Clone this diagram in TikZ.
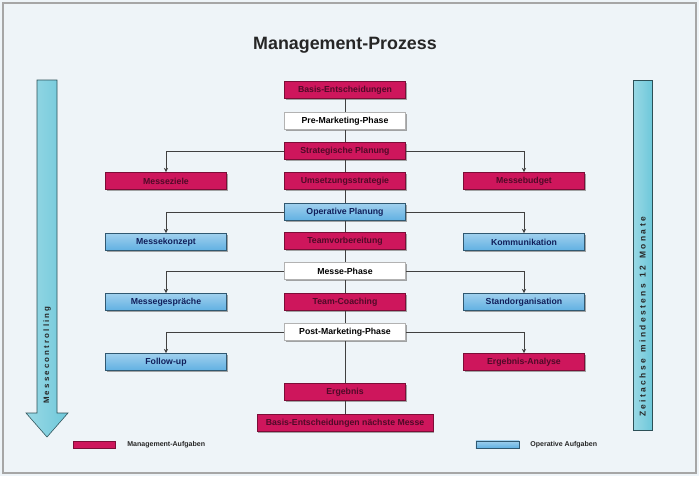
\documentclass[tikz,border=0pt]{standalone}
\usepackage{fontspec}
\setmainfont{Liberation Sans}
\usetikzlibrary{arrows.meta,shadows}

\definecolor{mgmt}{RGB}{206,22,92}
\definecolor{mgmttext}{RGB}{80,10,40}
\definecolor{oper}{RGB}{96,176,226}
\definecolor{opertext}{RGB}{16,30,90}
\definecolor{zeit}{RGB}{110,200,218}
\definecolor{bg}{RGB}{238,244,248}

\def\bw{121}

\begin{document}
\begin{tikzpicture}[x=0.025cm, y=-0.025cm, line width=0.5pt,
  every node/.style={font=\fontsize{6.2}{7}\selectfont\bfseries, inner sep=0, minimum height=0.43cm},
  mbox/.style={rectangle, fill=mgmt, draw=mgmt!60!black, text=mgmttext, minimum width=\bw*0.025cm, drop shadow={shadow xshift=0.8pt, shadow yshift=-1pt, opacity=0.7}},
  obox/.style={rectangle, top color=oper!60!white, bottom color=oper, draw=oper!50!black, text=opertext, minimum width=\bw*0.025cm, drop shadow={shadow xshift=0.8pt, shadow yshift=-1pt, opacity=0.7}},
  pbox/.style={rectangle, fill=white, draw=gray!60, text=black, minimum width=\bw*0.025cm, drop shadow={shadow xshift=0.8pt, shadow yshift=-1pt, opacity=0.7}},
  link/.style={draw=black!75, line width=0.7pt},
  branch/.style={link, -{Stealth[length=3pt, width=3pt]}}]

	\fill[bg] (0,0) rectangle (699,476);
	\draw[gray!70, line width=0.8pt] (3,3) rectangle (696,473);

	\node (title) at (345,45) [minimum height=0, font=\fontsize{12.7}{14}\selectfont\bfseries, text=black!85] {Management-Prozess};

	% mittlere Spalte
	\node (BE) at (345,90) [mbox] {Basis-Entscheidungen};
	\node (PRE) at (345,121) [pbox] {Pre-Marketing-Phase};
	\node (SP) at (345,151) [mbox] {Strategische Planung};
	\node (US) at (345,181) [mbox] {Umsetzungsstrategie};
	\node (OP) at (345,212) [obox] {Operative Planung};
	\node (TV) at (345,241) [mbox] {Teamvorbereitung};
	\node (MP) at (345,271) [pbox] {Messe-Phase};
	\node (TC) at (345,302) [mbox] {Team-Coaching};
	\node (POST) at (345,332) [pbox] {Post-Marketing-Phase};
	\node (ERG) at (345,392) [mbox] {Ergebnis};
	\node (BEN) at (345,423) [mbox, minimum width=4.4cm] {Basis-Entscheidungen nächste Messe};

	% linke Spalte
	\node (MZ) at (166,181) [mbox] {Messeziele};
	\node (MK) at (166,242) [obox] {Messekonzept};
	\node (MG) at (166,302) [obox] {Messegespräche};
	\node (FU) at (166,362) [obox] {Follow-up};

	% rechte Spalte
	\node (MB) at (524,181) [mbox] {Messebudget};
	\node (KO) at (524,242) [obox] {Kommunikation};
	\node (SO) at (524,302) [obox] {Standorganisation};
	\node (EA) at (524,362) [mbox] {Ergebnis-Analyse};

	\draw[link] (BE) to (PRE);
	\draw[link] (PRE) to (SP);
	\draw[link] (SP) to (US);
	\draw[link] (US) to (OP);
	\draw[link] (OP) to (TV);
	\draw[link] (TV) to (MP);
	\draw[link] (MP) to (TC);
	\draw[link] (TC) to (POST);
	\draw[link] (POST) to (ERG);
	\draw[link] (ERG) to (BEN);

	\draw[branch] (SP.west) -| (MZ.north);
	\draw[branch] (SP.east) -| (MB.north);
	\draw[branch] (OP.west) -| (MK.north);
	\draw[branch] (OP.east) -| (KO.north);
	\draw[branch] (MP.west) -| (MG.north);
	\draw[branch] (MP.east) -| (SO.north);
	\draw[branch] (POST.west) -| (FU.north);
	\draw[branch] (POST.east) -| (EA.north);

	% Messecontrolling
	\draw[draw=zeit!40!black, left color=zeit!70!white, right color=zeit, line width=0.4pt]
		(37,80) -- (57,80) -- (57,413) -- (68,413) -- (47,437) -- (26,413) -- (37,413) -- cycle;
	\node (MC) at (47,355) [rotate=90, minimum height=0, text=black!85, font=\fontsize{5.6}{6}\selectfont\bfseries] {M e s s e c o n t r o l l i n g};

	% Zeitachse
	\draw[draw=zeit!40!black, left color=zeit!70!white, right color=zeit, line width=0.4pt]
		(633,80) rectangle (652,430);
	\node (ZA) at (642.5,317) [rotate=90, minimum height=0, text=black!85, font=\fontsize{6}{6}\selectfont\bfseries] {Z e i t a c h s e \ \ m i n d e s t e n s \ \ 1 2 \ \ M o n a t e};

	% Legende
	\node (LM) at (94,444.5) [rectangle, fill=mgmt, draw=mgmt!60!black, minimum width=1.05cm, minimum height=0.18cm] {};
	\node (LMT) at (127,445) [anchor=west, minimum height=0, text=black!85, font=\fontsize{5}{6}\selectfont\bfseries] {Management-Aufgaben};
	\node (LO) at (497.5,444.5) [rectangle, top color=oper!60!white, bottom color=oper, draw=oper!50!black, minimum width=1.08cm, minimum height=0.18cm] {};
	\node (LOT) at (530,445) [anchor=west, minimum height=0, text=black!85, font=\fontsize{5}{6}\selectfont\bfseries] {Operative Aufgaben};

\end{tikzpicture}
\end{document}
